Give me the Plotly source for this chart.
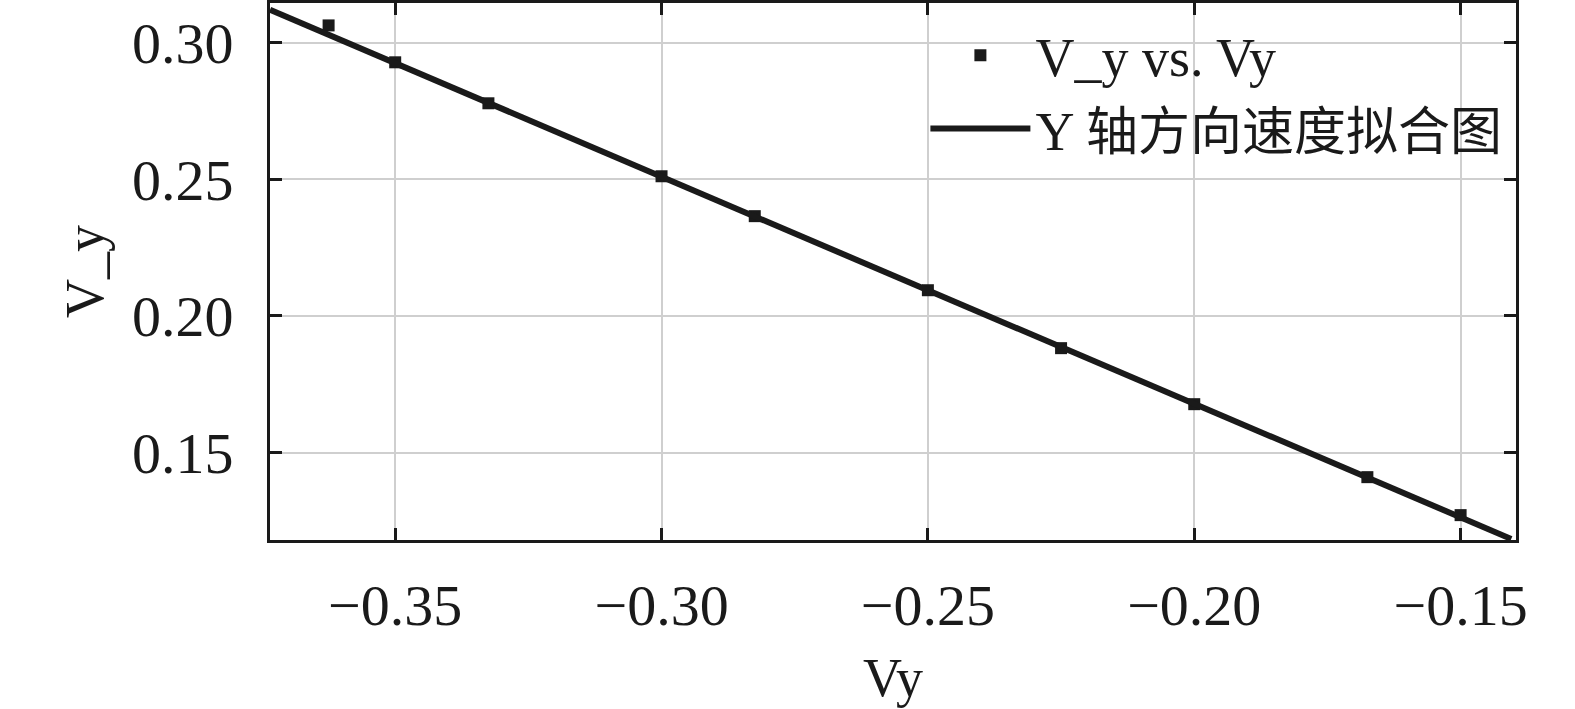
import plotly.graph_objects as go

# measured points
vy = [-0.3625, -0.35, -0.3325, -0.30, -0.2825, -0.25, -0.225, -0.20, -0.1675, -0.15]
v_y = [0.3063, 0.2928, 0.2778, 0.2511, 0.2365, 0.2094, 0.1882, 0.1677, 0.1410, 0.1271]

# fitted line ends
fit_x = [-0.3735, -0.1405]
fit_y = [0.3120, 0.1184]

xticks = [-0.35, -0.30, -0.25, -0.20, -0.15]
yticks = [0.15, 0.20, 0.25, 0.30]

font_main = "Liberation Serif, Times New Roman, Noto Sans CJK SC, serif"

fig = go.Figure()
fig.add_trace(go.Scatter(
    x=vy, y=v_y, mode='markers', name='V_y vs. Vy',
    marker=dict(symbol='square', size=12, color='#1a1a1a'),
))
fig.add_trace(go.Scatter(
    x=fit_x, y=fit_y, mode='lines',
    name='Y <span style="font-size:52px">轴方向速度拟合图</span>',
    line=dict(color='#1a1a1a', width=6),
))

axis_common = dict(
    showline=True, linecolor='#1a1a1a', linewidth=3, mirror='ticks',
    ticks='inside', ticklen=12, tickwidth=3, tickcolor='#1a1a1a',
    showgrid=True, gridcolor='#cfcfcf', gridwidth=2,
    zeroline=False, tickformat='.2f', automargin=False,
    tickfont=dict(family=font_main, size=58, color='#1a1a1a'),
)

fig.update_layout(
    width=1575, height=709,
    margin=dict(l=270, r=59, t=3, b=169),
    paper_bgcolor='white', plot_bgcolor='white',
    font=dict(family=font_main, size=57, color='#1a1a1a'),
    xaxis=dict(axis_common, range=[-0.3735, -0.1396], tickvals=xticks,
               title=dict(text='Vy', standoff=22, font=dict(size=54)),
               ticklabelstandoff=12),
    yaxis=dict(axis_common, range=[0.118, 0.3145], tickvals=yticks,
               title=dict(text='V_y', standoff=12, font=dict(size=54)),
               ticklabelstandoff=22),
    legend=dict(x=0.526, y=0.98, xanchor='left', yanchor='top',
                bgcolor='rgba(0,0,0,0)', itemwidth=100,
                font=dict(family=font_main, size=54, color='#1a1a1a'),
                tracegroupgap=0),
    showlegend=True,
)

# no page margin, so the figure sits at the top-left corner of the window
fig.write_html("out.html", config={'displayModeBar': False},
               post_script="document.body.style.margin='0px';")
